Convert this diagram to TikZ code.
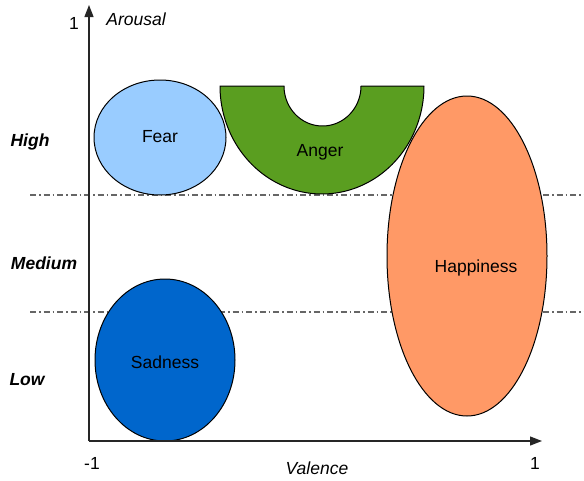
\documentclass[tikz,border=0pt]{standalone}
\usepackage{fontspec}
\setmainfont{Liberation Sans}
\usetikzlibrary{arrows.meta,shapes.geometric}
\definecolor{fearc}{HTML}{99CCFF}
\definecolor{sadc}{HTML}{0066CC}
\definecolor{happyc}{HTML}{FF9966}
\definecolor{angerc}{HTML}{5A9E20}
\definecolor{gridc}{HTML}{666666}
\begin{document}
\begin{tikzpicture}[x=1pt,y=-1pt,
  txt/.style={font=\fontsize{17.5}{20}\selectfont, inner sep=0pt},
  lvl/.style={font=\fontsize{17.5}{20}\selectfont\bfseries\itshape, inner sep=0pt},
  axis/.style={line width=1.3pt, draw=black!85, -{Triangle[length=12pt,width=9pt]}},
  blob/.style={ellipse, draw=black, line width=1pt, inner sep=0pt, font=\fontsize{17.5}{20}\selectfont},
  grid/.style={gridc, line width=1.2pt, dash pattern=on 6pt off 3pt on 1.5pt off 3pt}]
\useasboundingbox (0,0) rectangle (584,480);
% level separators
\coordinate (g1a) at (30,195); \coordinate (g1b) at (584,195);
\coordinate (g2a) at (30,312); \coordinate (g2b) at (584,312);
\draw[grid] (g1a) -- (g1b);
\draw[grid] (g2a) -- (g2b);
% emotions
\node[blob, fill=fearc, minimum width=132pt, minimum height=115pt] (fear) at (160,137.5) {};
\node[txt] (fearlbl) at (160,137) {Fear};
\node[blob, fill=sadc, minimum width=140pt, minimum height=162pt] (sad) at (165,360) {};
\node[txt] (sadlbl) at (165,362) {Sadness};
\node[blob, fill=happyc, minimum width=160pt, minimum height=320pt] (happy) at (467,256) {};
\node[txt] (happylbl) at (476,268) {Happiness};
\draw[fill=angerc, line width=1pt, line join=round]
  plot[domain=180:0, samples=90] ({322+102*cos(\x)},{86+108*sin(\x)})
  -- plot[domain=0:180, samples=60] ({322.5+38.5*cos(\x)},{86+40*sin(\x)}) -- cycle;
\node[txt] (anger) at (320,152) {Anger};
% axes
\coordinate (O) at (89,441);
\coordinate (ytop) at (89,5);
\coordinate (xend) at (542,441);
\draw[axis] (O) -- (ytop);
\draw[axis] (O) -- (xend);
\node[txt] (y1) at (74,23) {1};
\node[txt, font=\fontsize{17.5}{20}\selectfont\itshape] (ylab) at (136,19) {Arousal};
\node[txt] (xm1) at (92,463) {-1};
\node[txt] (x1) at (535,463) {1};
\node[txt, font=\fontsize{17.5}{20}\selectfont\itshape] (xlab) at (317,468) {Valence};
\node[lvl] (high) at (30,142) {High};
\node[lvl] (med) at (44,263) {Medium};
\node[lvl] (low) at (27,380) {Low};
\end{tikzpicture}
\end{document}
